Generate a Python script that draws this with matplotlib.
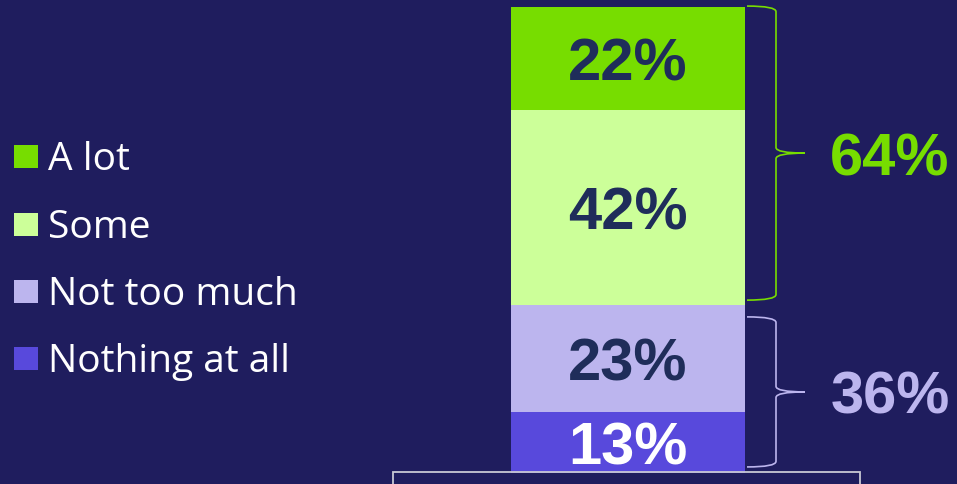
import matplotlib
matplotlib.use("Agg")
import matplotlib.pyplot as plt
from matplotlib.patches import Rectangle, PathPatch
from matplotlib.path import Path
import matplotlib.transforms as mtransforms

# ---- data ----
categories = ["Nothing at all", "Not too much", "Some", "A lot"]   # bottom -> top
values = [13, 23, 42, 22]
seg_colors = ["#5849dc", "#bcb5ee", "#ccff99", "#77dd00"]
label_colors = ["#ffffff", "#1f2d5a", "#1f2d5a", "#1f2d5a"]
legend_order = ["A lot", "Some", "Not too much", "Nothing at all"]
group_labels = ["36%", "64%"]
group_ranges = [(0, 36), (36, 100)]
group_colors = ["#bcb5ee", "#77dd00"]

BG = "#1f1d5e"
W, H = 957, 485
fig = plt.figure(figsize=(W / 100, H / 100), dpi=100, facecolor=BG)

def fx(px):
    return px / W

def fy(py):
    return 1 - py / H

# bar axes
bar_left, bar_right, bar_top, bar_bottom = 511, 745, 8, 474
ax = fig.add_axes([fx(bar_left), fy(bar_bottom), fx(bar_right - bar_left), (bar_bottom - bar_top) / H])
ax.set_facecolor("none")
ax.set_xlim(-0.5, 0.5)
ax.set_ylim(0, 100)
ax.axis("off")

bottom = 0
for v, c, lc in zip(values, seg_colors, label_colors):
    ax.bar(0, v, width=1.0, bottom=bottom, color=c, edgecolor="none")
    ax.annotate(f"{v}%", (0, bottom + v / 2), xytext=(0, -4), textcoords="offset points",
                ha="center", va="center", color=lc,
                fontsize=43, fontweight="bold", family="Liberation Sans")
    bottom += v

# braces
trans = mtransforms.blended_transform_factory(ax.transAxes, ax.transData)
x0 = (747 - bar_left) / (bar_right - bar_left)
xs = (776 - bar_left) / (bar_right - bar_left)
xt = (805 - bar_left) / (bar_right - bar_left)
r = 1.2
pads = [(1.3, 2.5), (1.1, -0.2)]
for (lo, hi), col, lab, (pl, ph) in zip(group_ranges, group_colors, group_labels, pads):
    yb = lo + pl
    yt = hi - ph
    ym = (yb + yt) / 2
    verts = [(x0, yt), (xs, yt), (xs, yt - r), (xs, ym + r), (xs, ym), (xt, ym),
             (xs, ym), (xs, ym - r), (xs, yb + r), (xs, yb), (x0, yb)]
    codes = [Path.MOVETO, Path.CURVE3, Path.CURVE3, Path.LINETO, Path.CURVE3, Path.CURVE3,
             Path.CURVE3, Path.CURVE3, Path.LINETO, Path.CURVE3, Path.CURVE3]
    ax.add_patch(PathPatch(Path(verts, codes), transform=trans, facecolor="none",
                           edgecolor=col, lw=1.2, clip_on=False))
    xl = (890 - bar_left) / (bar_right - bar_left)
    ax.annotate(lab, (xl, ym), xycoords=trans, xytext=(0, -4), textcoords="offset points",
                ha="center", va="center", color=col,
                fontsize=43, fontweight="bold", family="Liberation Sans", annotation_clip=False)

# legend (manual)
color_of = dict(zip(categories, seg_colors))
row_y = [157, 225, 292, 359]
for name, y in zip(legend_order, row_y):
    fig.patches.append(Rectangle((fx(14), fy(y + 11.5)), fx(24), 23 / H,
                                 transform=fig.transFigure, facecolor=color_of[name],
                                 edgecolor="none"))
    fig.text(fx(48), fy(y + 3), name, ha="left", va="center", color="white",
             fontsize=28, family="Open Sans")

# bottom outline box
fig.patches.append(Rectangle((fx(393), fy(H + 20)), fx(860 - 393), 20 / H + (H - 473) / H,
                             transform=fig.transFigure, facecolor="none",
                             edgecolor="#c8c8d4", lw=1.3))

fig.savefig("out.png", dpi=100, facecolor=BG)
